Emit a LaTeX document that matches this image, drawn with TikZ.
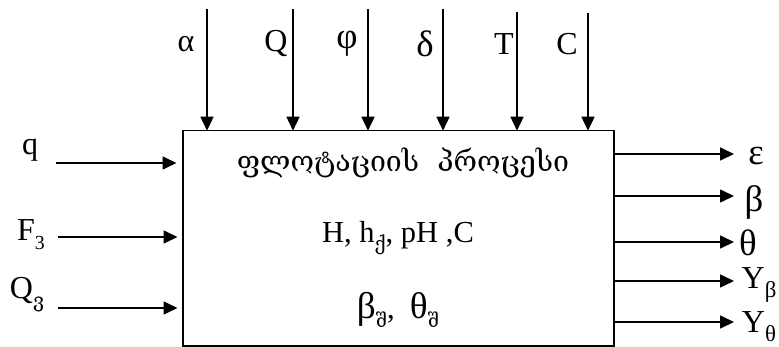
\documentclass[tikz,border=0pt]{standalone}
\usepackage{graphicx}
\usepackage{fontspec}
\setmainfont{Liberation Serif}
\newfontfamily\geofont[Script=Georgian]{DejaVu Serif}
\usetikzlibrary{arrows.meta}
\newcommand{\lowsub}[1]{\raisebox{-0.28em}{\scalebox{0.62}{#1}}}
\newcommand{\gk}[1]{\scalebox{1.15}{#1}}
\tikzset{
  lbl/.style={inner sep=0pt, font=\fontsize{32}{32}\selectfont},
  arr/.style={line width=1.6pt, -{Triangle[length=14pt,width=13pt]}},
  blk/.style={draw, line width=1.6pt, minimum width=431pt, minimum height=215pt, inner sep=0pt},
  txt/.style={inner sep=0pt, font=\fontsize{30.5}{30.5}\selectfont}
}
\begin{document}
\begin{tikzpicture}[x=1pt,y=-1pt]
\useasboundingbox (0,0) rectangle (779,347);
\node[blk] (box) at (398.3,238.2) {};
% inside text
\node[txt] (t1) at (403,163) {\geofont\fontsize{28.5}{28.5}\selectfont ფლოტაციის\ \ პროცესი};
\node[txt] (t2) at (398,238) {H, h\lowsub{\geofont ქ}, pH ,C};
\node[txt] (t3) at (398,310) {\scalebox{1.22}{β}\lowsub{\geofont შ},\ \ \scalebox{1.22}{θ}\lowsub{\geofont შ}};
% top inputs
\foreach \n/\x/\y/\lx/\l in {a/207/9/186/α, b/293/9/276/Q, c/368/9/347/\gk{φ}, d/443/9/425/\gk{δ}, e/517/12/504/T, f/588/13/567/C}{
  \coordinate (s\n) at (\x,\y);
  \coordinate (e\n) at (\x,130.7);
  \draw[arr] (s\n) -- (e\n);
  \node[lbl] (l\n) at (\lx,44) {\l};
}
% left inputs
\coordinate (q1) at (56,163);  \coordinate (q2) at (176.5,163);
\coordinate (f1) at (58,237);  \coordinate (f2) at (177.5,237);
\coordinate (g1) at (58,308);  \coordinate (g2) at (177.5,308);
\draw[arr] (q1) -- (q2);
\draw[arr] (f1) -- (f2);
\draw[arr] (g1) -- (g2);
\node[lbl] (lq) at (30,150) {q};
\node[lbl] (lf) at (31,235) {F\lowsub{3}};
\node[lbl] (lg) at (27,295) {Q\lowsub{\geofont ვ}};
% right outputs
\foreach \n/\y in {o1/154, o2/196, o3/242, o4/281, o5/322}{
  \coordinate (s\n) at (614,\y);
  \coordinate (e\n) at (734,\y);
  \draw[arr] (s\n) -- (e\n);
}
\node[lbl] (m1) at (756,156) {\gk{ε}};
\node[lbl] (m2) at (754,202) {\gk{β}};
\node[lbl] (m3) at (748,243) {\gk{θ}};
\node[lbl] (m4) at (759,285) {Y\lowsub{\gk{β}}};
\node[lbl] (m5) at (759,327) {Y\lowsub{\gk{θ}}};
\end{tikzpicture}
\end{document}
